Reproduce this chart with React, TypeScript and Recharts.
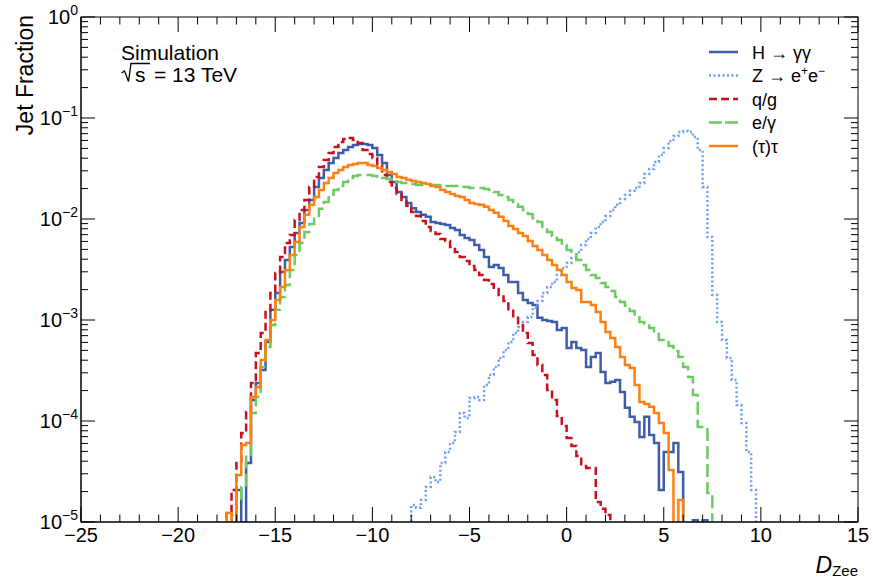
import React from 'react';
import { LineChart, Line, XAxis, YAxis } from 'recharts';

const BIN = 0.25;
const FLOOR = 1e-7;

const seriesNames = ['H → γγ', 'Z → e+e−', 'q/g', 'e/γ', '(τ)τ'];

const hggStart = -17;
const hggValues = [
  2.08e-5, 0, 3.84e-5, 1.61e-4, 2.38e-4, 3.2e-4, 6.05e-4, 1.26e-3, 1.85e-3, 2.99e-3,
  3.93e-3, 5.28e-3, 7.27e-3, 9.13e-3, 0.0123, 0.0154, 0.0208, 0.0255, 0.0306, 0.0359,
  0.0402, 0.0451, 0.0482, 0.0516, 0.054, 0.0553, 0.0553, 0.054, 0.0505, 0.043,
  0.0359, 0.0273, 0.0233, 0.0185, 0.0165, 0.0144, 0.0128, 0.0117, 0.011, 0.0105,
  0.00934, 0.00913, 0.00892, 0.00872, 0.00814, 0.00778, 0.00694, 0.00648, 0.00619, 0.00553,
  0.00493, 0.00421, 0.00335, 0.00351, 0.00328, 0.00279, 0.00238, 0.00238, 0.00185, 0.00158,
  0.00147, 0.00141, 0.00105, 0.001, 9.77e-4, 9.55e-4, 7.96e-4, 8.33e-4, 5.28e-4, 6.05e-4,
  5.28e-4, 5.05e-4, 3.43e-4, 4.3e-4, 4.71e-4, 3.06e-4, 2.38e-4, 2.44e-4, 2.55e-4, 1.94e-4,
  1.35e-4, 1.1e-4, 9.77e-5, 6.94e-5, 1.1e-4, 7.27e-5, 6.05e-5, 2.08e-5, 4.93e-5, 4.93e-5,
  6.05e-5, 3.13e-5, 0, 0, 1.04e-5, 0, 1.04e-5,
];

const zeeStart = -8;
const zeeValues = [
  1.47e-5, 1.38e-5, 1.65e-5, 2.22e-5, 2.79e-5, 2.49e-5, 3.84e-5, 4.93e-5, 6.05e-5, 7.78e-5,
  1.2e-4, 1.07e-4, 1.69e-4, 1.73e-4, 1.61e-4, 2.27e-4, 2.86e-4, 3.43e-4, 4.21e-4, 5.05e-4,
  6.05e-4, 7.43e-4, 8.52e-4, 9.55e-4, 1.07e-3, 1.32e-3, 1.54e-3, 1.85e-3, 2.12e-3, 2.38e-3,
  2.79e-3, 3.28e-3, 3.67e-3, 4.11e-3, 4.71e-3, 5.53e-3, 6.34e-3, 7.27e-3, 8.33e-3, 9.34e-3,
  0.0107, 0.0123, 0.0138, 0.0158, 0.0173, 0.019, 0.0203, 0.0227, 0.0279, 0.0313,
  0.0367, 0.043, 0.0505, 0.0592, 0.0663, 0.0727, 0.0743, 0.0727, 0.0648, 0.0482,
  0.0208, 0.00663, 0.00177, 9.55e-4, 6.34e-4, 4.21e-4, 2.55e-4, 1.44e-4, 9.55e-5, 4.93e-5,
  2.08e-5,
];

const qgStart = -17.5;
const qgValues = [
  1.23e-5, 2.08e-5, 3.84e-5, 7.6e-5, 1.23e-4, 2.38e-4, 4.71e-4, 7.43e-4, 1.2e-3, 1.85e-3,
  2.92e-3, 4.21e-3, 5.78e-3, 6.94e-3, 9.77e-3, 0.0123, 0.0154, 0.0208, 0.0261, 0.0328,
  0.0384, 0.0451, 0.0516, 0.0578, 0.0619, 0.0634, 0.0605, 0.0566, 0.0482, 0.044,
  0.0402, 0.0343, 0.0273, 0.0233, 0.0203, 0.0177, 0.0154, 0.0135, 0.0117, 0.0107,
  0.00955, 0.00833, 0.0076, 0.0071, 0.00634, 0.00605, 0.00528, 0.00471, 0.00421, 0.00384,
  0.00343, 0.00313, 0.00279, 0.00249, 0.00227, 0.00203, 0.00177, 0.00154, 0.00128, 0.00105,
  8.92e-4, 7.43e-4, 5.92e-4, 4.51e-4, 3.59e-4, 2.86e-4, 2.03e-4, 1.61e-4, 1.12e-4, 8.92e-5,
  6.79e-5, 5.66e-5, 4.51e-5, 3.59e-5, 3.43e-5, 3.43e-5, 1.58e-5, 1.35e-5, 1.17e-5,
];

const egStart = -17.25;
const egValues = [
  1.17e-5, 1.65e-5, 2.22e-5, 4.61e-5, 1.2e-4, 1.73e-4, 3.43e-4, 5.4e-4, 8.92e-4, 1.26e-3,
  1.69e-3, 2.22e-3, 3.13e-3, 4.4e-3, 5.78e-3, 7.43e-3, 8.92e-3, 0.0107, 0.0126, 0.0147,
  0.0169, 0.0194, 0.0212, 0.0233, 0.0255, 0.0267, 0.0273, 0.0273, 0.0273, 0.0267,
  0.0261, 0.0255, 0.0249, 0.0238, 0.0233, 0.0227, 0.0227, 0.0222, 0.0217, 0.0217,
  0.0217, 0.0217, 0.0217, 0.0217, 0.0212, 0.0212, 0.0212, 0.0208, 0.0208, 0.0203,
  0.0203, 0.0203, 0.0198, 0.0194, 0.0185, 0.0173, 0.0165, 0.0154, 0.0141, 0.0132,
  0.0123, 0.0112, 0.0102, 0.00934, 0.00833, 0.00743, 0.00679, 0.00619, 0.00553, 0.00493,
  0.00461, 0.00393, 0.00351, 0.00313, 0.00279, 0.00261, 0.00233, 0.00212, 0.00194, 0.00169,
  0.00151, 0.00138, 0.00123, 0.00107, 9.55e-4, 9.13e-4, 8.33e-4, 7.27e-4, 6.34e-4, 6.05e-4,
  5.53e-4, 4.93e-4, 4.3e-4, 3.43e-4, 2.73e-4, 1.81e-4, 8.72e-5, 8.72e-5, 1.94e-5,
];

const tauStart = -17.5;
const tauValues = [
  1.23e-5, 0, 2.92e-5, 5.78e-5, 6.05e-5, 1.73e-4, 2.17e-4, 4.02e-4, 6.34e-4, 1.0e-3,
  1.58e-3, 2.12e-3, 3.13e-3, 4.4e-3, 5.92e-3, 8.33e-3, 0.011, 0.0138, 0.0165, 0.0194,
  0.0227, 0.0255, 0.0286, 0.0306, 0.0328, 0.0343, 0.0351, 0.0359, 0.0359, 0.0343,
  0.0335, 0.032, 0.0306, 0.0292, 0.0279, 0.0261, 0.0255, 0.0244, 0.0238, 0.0233,
  0.0227, 0.0222, 0.0212, 0.0208, 0.0194, 0.0185, 0.0177, 0.0169, 0.0165, 0.0154,
  0.0144, 0.0141, 0.0138, 0.0132, 0.0123, 0.0115, 0.0105, 0.00955, 0.00852, 0.00796,
  0.00727, 0.00679, 0.00605, 0.0054, 0.00493, 0.0044, 0.00393, 0.00351, 0.00313, 0.00279,
  0.00238, 0.00208, 0.00198, 0.00151, 0.00151, 0.00141, 0.0012, 9.55e-4, 7.6e-4, 6.63e-4,
  5.4e-4, 4.3e-4, 3.59e-4, 3.35e-4, 2.27e-4, 1.54e-4, 1.47e-4, 1.38e-4, 1.2e-4, 9.55e-5,
  7.6e-5, 3.28e-5, 0, 1.65e-5,
];

const xMajorTicks = [-25, -20, -15, -10, -5, 0, 5, 10, 15];
const xTicks = Array.from({ length: 41 }, (_, i) => -25 + i);
const yExponents = [-5, -4, -3, -2, -1, 0];
const yTicks: number[] = [];
for (let e = -5; e < 0; e++) for (let m = 1; m < 10; m++) yTicks.push(m * Math.pow(10, e));
yTicks.push(1);

const COLORS = {
  hgg: '#3e5ca8',
  zee: '#6d9ef5',
  qg: '#c8101e',
  eg: '#6ccb60',
  tau: '#ff8012',
};

const W = 873;
const H = 578;
const PL = 81;
const PR = 858;
const PT = 17;
const PB = 522;
const FONT = '"Liberation Sans", Arial, Helvetica, sans-serif';

function histo(start: number, values: number[]) {
  const pts: { x: number; v: number }[] = [{ x: start, v: FLOOR }];
  values.forEach((val, i) => pts.push({ x: start + i * BIN, v: val > 0 ? val : FLOOR }));
  pts.push({ x: start + values.length * BIN, v: FLOOR });
  return pts;
}

const XTick = (props: any) => {
  const { x, payload } = props;
  const v = payload.value;
  const major = xMajorTicks.includes(v);
  const len = major ? 15 : 7.5;
  return (
    <g>
      <line x1={x} x2={x} y1={PB} y2={PB - len} stroke="#000" strokeWidth={1} />
      <line x1={x} x2={x} y1={PT} y2={PT + len} stroke="#000" strokeWidth={1} />
      {major && (
        <text x={x} y={542} textAnchor="middle" fontSize={20} fill="#000" fontFamily={FONT}>
          {v < 0 ? '−' + Math.abs(v) : String(v)}
        </text>
      )}
    </g>
  );
};

const YTick = (props: any) => {
  const { y, payload } = props;
  const v = payload.value;
  const lg = Math.log10(v);
  const exp = Math.round(lg);
  const major = Math.abs(lg - exp) < 1e-6 && yExponents.includes(exp);
  const len = major ? 14 : 7;
  return (
    <g>
      <line x1={PL} x2={PL + len} y1={y} y2={y} stroke="#000" strokeWidth={1} />
      <line x1={PR} x2={PR - len} y1={y} y2={y} stroke="#000" strokeWidth={1} />
      {major && (
        <text x={78} y={y + 7} textAnchor="end" fontSize={20} fill="#000" fontFamily={FONT}>
          10
          <tspan fontSize={14} dy={-9}>
            {exp === 0 ? '0' : '−' + Math.abs(exp)}
          </tspan>
        </text>
      )}
    </g>
  );
};

const legendRows = [52, 75.5, 99, 122.5, 146];

export default function App() {
  const common = {
    dataKey: 'v',
    type: 'stepAfter' as const,
    dot: false,
    activeDot: false,
    isAnimationActive: false,
    strokeWidth: 2.5,
  };
  return (
    <div style={{ position: 'absolute', left: 0, top: 0, width: W, height: H, background: '#fff', fontFamily: FONT }}>
      <LineChart width={W} height={H} margin={{ top: PT, right: W - PR, bottom: 0, left: 0 }}>
        <XAxis
          type="number"
          dataKey="x"
          domain={[-25, 15]}
          ticks={xTicks}
          interval={0}
          tick={<XTick />}
          tickLine={false}
          axisLine={{ stroke: '#000' }}
          height={H - PB}
          allowDataOverflow
        />
        <YAxis
          type="number"
          scale="log"
          domain={[1e-5, 1]}
          ticks={yTicks}
          interval={0}
          tick={<YTick />}
          tickLine={false}
          axisLine={{ stroke: '#000' }}
          width={PL}
          allowDataOverflow
        />
        <Line {...common} data={histo(hggStart, hggValues)} stroke={COLORS.hgg} name={seriesNames[0]} />
        <Line {...common} data={histo(zeeStart, zeeValues)} stroke={COLORS.zee} strokeDasharray="2 2.5" name={seriesNames[1]} />
        <Line {...common} data={histo(qgStart, qgValues)} stroke={COLORS.qg} strokeDasharray="8 4" name={seriesNames[2]} />
        <Line {...common} data={histo(egStart, egValues)} stroke={COLORS.eg} strokeDasharray="13 5" name={seriesNames[3]} />
        <Line {...common} data={histo(tauStart, tauValues)} stroke={COLORS.tau} name={seriesNames[4]} />
      </LineChart>
      <svg width={W} height={H} style={{ position: 'absolute', left: 0, top: 0, pointerEvents: 'none' }} fontFamily={FONT}>
        <rect x={PL} y={PT} width={PR - PL} height={PB - PT} fill="none" stroke="#000" strokeWidth={1} />
        <text transform="translate(33,15) rotate(-90)" textAnchor="end" fontSize={23} fill="#000">
          Jet Fraction
        </text>
        <text x={858} y={573} textAnchor="end" fill="#000">
          <tspan fontSize={23} fontStyle="italic">D</tspan>
          <tspan fontSize={15} dy={3}>Zee</tspan>
        </text>
        <text x={121} y={60} fontSize={21} fill="#000">Simulation</text>
        <path d="M121.5,73 L124.5,71 L128.5,81.5 L131,63.5 L150,63.5" fill="none" stroke="#000" strokeWidth={1.3} />
        <text x={135} y={82} fontSize={21} fill="#000">s</text>
        <text x={154} y={82} fontSize={21} fill="#000">= 13 TeV</text>
        <line x1={709} x2={738} y1={legendRows[0]} y2={legendRows[0]} stroke={COLORS.hgg} strokeWidth={2.5} />
        <line x1={709} x2={738} y1={legendRows[1]} y2={legendRows[1]} stroke={COLORS.zee} strokeWidth={2.5} strokeDasharray="2 2.5" />
        <line x1={709} x2={738} y1={legendRows[2]} y2={legendRows[2]} stroke={COLORS.qg} strokeWidth={2.5} strokeDasharray="8 4" />
        <line x1={709} x2={738} y1={legendRows[3]} y2={legendRows[3]} stroke={COLORS.eg} strokeWidth={2.5} strokeDasharray="13 3" />
        <line x1={709} x2={738} y1={legendRows[4]} y2={legendRows[4]} stroke={COLORS.tau} strokeWidth={2.5} />
        <text x={752} y={legendRows[0] + 6.5} fontSize={18} fill="#000">H → γγ</text>
        <text x={752} y={legendRows[1] + 6.5} fontSize={18} fill="#000">
          Z → e<tspan fontSize={12} dy={-7}>+</tspan>
          <tspan dy={7}>e</tspan>
          <tspan fontSize={12} dy={-7}>−</tspan>
        </text>
        <text x={752} y={legendRows[2] + 6.5} fontSize={18} fill="#000">q/g</text>
        <text x={752} y={legendRows[3] + 6.5} fontSize={18} fill="#000">e/γ</text>
        <text x={752} y={legendRows[4] + 6.5} fontSize={18} fill="#000">(τ)τ</text>
      </svg>
    </div>
  );
}
